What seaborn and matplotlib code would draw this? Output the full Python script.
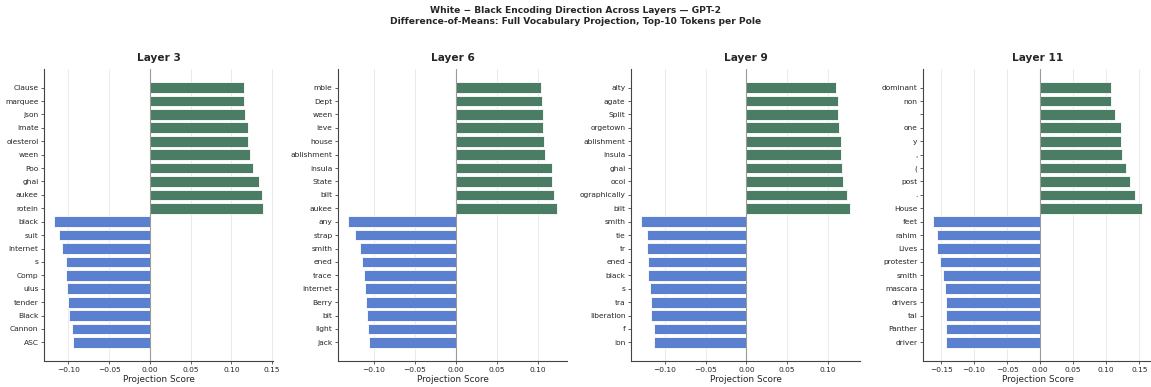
import matplotlib
matplotlib.use("Agg")
import matplotlib.pyplot as plt
import seaborn as sns
import pandas as pd

# Top-10 tokens per pole for each layer, listed top-to-bottom as drawn
layers = ["Layer 3", "Layer 6", "Layer 9", "Layer 11"]

white_tokens_l3 = ["Clause", "marquee", "json", "imate", "olesterol", "ween", "Poo", "ghai", "aukee", "rotein"]
white_scores_l3 = [0.1156, 0.1156, 0.1169, 0.1201, 0.1201, 0.1230, 0.1270, 0.1343, 0.1372, 0.1384]
black_tokens_l3 = ["black", "suit", "Internet", "s", "Comp", "ulus", "tender", "Black", "Cannon", "ASC"]
black_scores_l3 = [-0.1173, -0.1120, -0.1075, -0.1035, -0.1026, -0.1014, -0.1000, -0.0994, -0.0953, -0.0949]

white_tokens_l6 = ["mble", "Dept", "ween", "ieve", "house", "ablishment", "insula", "State", "bilt", "aukee"]
white_scores_l6 = [0.1037, 0.1053, 0.1061, 0.1065, 0.1081, 0.1093, 0.1170, 0.1175, 0.1195, 0.1232]
black_tokens_l6 = ["any", "strap", "smith", "ened", "trace", "Internet", "Berry", "bit", "light", "jack"]
black_scores_l6 = [-0.1313, -0.1232, -0.1175, -0.1146, -0.1126, -0.1114, -0.1098, -0.1085, -0.1069, -0.1065]

white_tokens_l9 = ["alty", "agate", "Split", "orgetown", "ablishment", "insula", "ghai", "ocol", "ographically", "bilt"]
white_scores_l9 = [0.1100, 0.1122, 0.1130, 0.1134, 0.1167, 0.1167, 0.1179, 0.1191, 0.1240, 0.1268]
black_tokens_l9 = ["smith", "tie", "tr", "ened", "black", "s", "tra", "liberation", "f", "ion"]
black_scores_l9 = [-0.1289, -0.1220, -0.1220, -0.1211, -0.1203, -0.1179, -0.1175, -0.1167, -0.1138, -0.1130]

white_tokens_l11 = ["dominant", "non", "", "one", "y", ",", "(", "post", ".", "House"]
white_scores_l11 = [0.1074, 0.1074, 0.1129, 0.1229, 0.1229, 0.1244, 0.1305, 0.1365, 0.1430, 0.1535]
black_tokens_l11 = ["feet", "rahim", "Lives", "protester", "smith", "mascara", "drivers", "tal", "Panther", "driver"]
black_scores_l11 = [-0.1616, -0.1566, -0.1555, -0.1510, -0.1470, -0.1440, -0.1425, -0.1425, -0.1420, -0.1420]

panels = [
    (white_tokens_l3, white_scores_l3, black_tokens_l3, black_scores_l3),
    (white_tokens_l6, white_scores_l6, black_tokens_l6, black_scores_l6),
    (white_tokens_l9, white_scores_l9, black_tokens_l9, black_scores_l9),
    (white_tokens_l11, white_scores_l11, black_tokens_l11, black_scores_l11),
]

palette = {"White": "#4a7d63", "Black": "#5b80cf"}

sns.set_style("ticks")
plt.rcParams["font.family"] = ["DejaVu Sans"]

fig = plt.figure(figsize=(11.51, 3.87), dpi=100)
fig.suptitle("White \u2212 Black Encoding Direction Across Layers \u2014 GPT-2\n"
             "Difference-of-Means: Full Vocabulary Projection, Top-10 Tokens per Pole",
             fontsize=6.6, fontweight="bold", y=0.985, linespacing=1.25)

lefts = [44, 338, 631, 923]
width_px = 229
bottom = 26 / 387
height = 292 / 387

for i, (name, (wt, ws, bt, bs)) in enumerate(zip(layers, panels)):
    ax = fig.add_axes([lefts[i] / 1151, bottom, width_px / 1151, height])
    tokens = wt + bt
    df = pd.DataFrame({
        "row": list(range(len(tokens))),
        "score": ws + bs,
        "pole": ["White"] * len(wt) + ["Black"] * len(bt),
    })
    ax.grid(axis="x", color="#e6e6e6", linewidth=0.6, zorder=0)
    ax.set_axisbelow(True)
    sns.barplot(data=df, x="score", y="row", hue="pole", palette=palette,
                orient="h", dodge=False, width=0.8, saturation=1,
                edgecolor="white", linewidth=0.6, legend=False, ax=ax, zorder=2)
    ax.axvline(0, color="#9a9a9a", linewidth=0.8, zorder=3)
    ax.set_yticks(range(len(tokens)))
    ax.set_yticklabels(tokens)
    ax.set_ylim(len(tokens) - 1 + 1.39, -1.39)
    ax.margins(x=0.05)
    ax.set_ylabel("")
    ax.set_xlabel("Projection Score", fontsize=6.4, labelpad=2)
    ax.set_title(name, fontsize=7.6, fontweight="bold", pad=6)
    ax.tick_params(axis="both", labelsize=5.4, length=2.5, width=0.6, pad=1.5,
                   color="#444444")
    for side in ("left", "bottom"):
        ax.spines[side].set_linewidth(0.8)
        ax.spines[side].set_color("#444444")
    sns.despine(ax=ax)

fig.savefig("out.png", dpi=100)
